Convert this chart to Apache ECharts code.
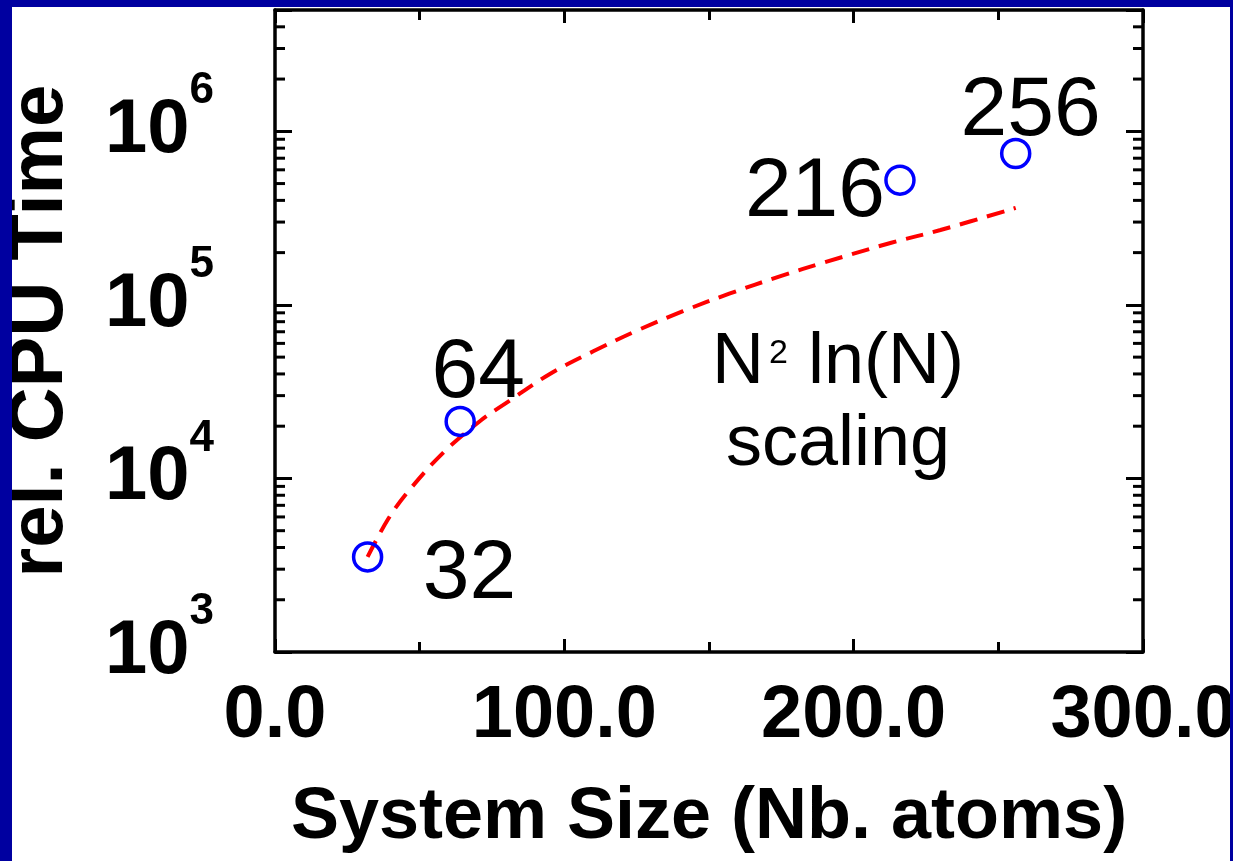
<!DOCTYPE html>
<html>
<head>
<meta charset="utf-8">
<script src="https://cdn.jsdelivr.net/npm/echarts@6/dist/echarts.min.js"></script>
<style>
  html, body { margin: 0; padding: 0; width: 1233px; height: 861px; background: #0000a0; overflow: hidden; }
  #chart { position: absolute; left: 12px; top: 7px; width: 1218px; height: 854px; background: #ffffff; }
</style>
</head>
<body>
<div id="chart"></div>
<script>
// ---- data ----
const systemSizes = [32, 64, 216, 256];                 // Nb. atoms
const cpuTimes = [3530, 21300, 523000, 745000];         // rel. CPU time (measured)
const fitSizes = [32, 39, 46, 58, 71, 81, 95, 110, 125, 141, 157, 175, 190, 213, 230, 256];
const fitTimes = [3530, 5800, 8400, 14000, 21500, 28000, 40000, 54000, 71000, 92000, 116000, 147000, 176000, 228000, 270000, 362000];
const xTickLabels = ['0.0', '100.0', '200.0', '300.0'];
const yDecadeExponents = [3, 4, 5, 6];
const xAxisTitle = 'System Size (Nb. atoms)';
const yAxisTitle = 'rel. CPU Time';
const annotationLine1 = ['N', '2', ' ln(N)'];
const annotationLine2 = 'scaling';

// ---- layout / style ----
const FONT = "'Liberation Sans', Arial, Helvetica, sans-serif";
const labelOffsets = [[102, 18], [18, -48], [-85, 13], [15, -42]];
const xMin = 0, xMax = 300, yMin = 1000, yMax = 5e6;

// minor log ticks (2..9 x decade) inside the axis range
const minorTickValues = [];
yDecadeExponents.forEach(function (e) {
  for (let k = 2; k <= 9; k++) {
    const v = k * Math.pow(10, e);
    if (v < yMax) minorTickValues.push(v);
  }
});

const chart = echarts.init(document.getElementById('chart'), null, { renderer: 'canvas' });

const axisLineStyle = { color: '#000', width: 3.5 };
const tickStyle = { color: '#000', width: 3 };

function yLabel(v) {
  const lg = Math.log10(v);
  const e = Math.round(lg);
  if (Math.abs(lg - e) > 1e-6 || yDecadeExponents.indexOf(e) < 0) return '';
  return '{b|10}{s|' + e + '}';
}
function xLabel(v) {
  const i = Math.round(v / 100);
  if (Math.abs(v - i * 100) > 1e-6) return '';
  return xTickLabels[i] || '';
}

const option = {
  backgroundColor: '#ffffff',
  animation: false,
  grid: { left: 263, top: 3, width: 868, height: 642, containLabel: false, outerBoundsMode: 'none' },
  xAxis: [
    {
      type: 'value', min: xMin, max: xMax, interval: 100, position: 'bottom',
      axisLine: { show: true, onZero: false, lineStyle: axisLineStyle },
      axisTick: { show: true, inside: true, length: 13, lineStyle: tickStyle },
      minorTick: { show: true, splitNumber: 2, length: 10, lineStyle: tickStyle },
      splitLine: { show: false },
      axisLabel: {
        formatter: xLabel, color: '#000', fontFamily: FONT, fontWeight: 'bold',
        fontSize: 74, margin: 28, showMinLabel: true, showMaxLabel: true, hideOverlap: false
      },
      name: xAxisTitle, nameLocation: 'middle', nameGap: 130,
      nameTextStyle: { color: '#000', fontFamily: FONT, fontWeight: 'bold', fontSize: 72 }
    },
    {
      type: 'value', min: xMin, max: xMax, interval: 100, position: 'top',
      axisLine: { show: true, onZero: false, lineStyle: axisLineStyle },
      axisTick: { show: true, inside: true, length: 13, lineStyle: tickStyle },
      minorTick: { show: true, splitNumber: 2, length: 10, lineStyle: tickStyle },
      splitLine: { show: false },
      axisLabel: { show: false }
    }
  ],
  yAxis: [
    {
      type: 'log', logBase: 10, min: yMin, max: yMax, position: 'left',
      axisLine: { show: true, onZero: false, lineStyle: axisLineStyle },
      axisTick: { show: true, inside: true, length: 17, lineStyle: tickStyle },
      minorTick: { show: false },
      splitLine: { show: false },
      axisLabel: {
        formatter: yLabel, margin: 61, color: '#000', hideOverlap: false, lineHeight: 124,
        rich: {
          b: { fontFamily: FONT, fontWeight: 'bold', fontSize: 76, lineHeight: 124, color: '#000' },
          s: { fontFamily: FONT, fontWeight: 'bold', fontSize: 44, lineHeight: 20, verticalAlign: 'top', color: '#000' }
        }
      },
      name: yAxisTitle, nameLocation: 'middle', nameGap: 196,
      nameTextStyle: { color: '#000', fontFamily: FONT, fontWeight: 'bold', fontSize: 76 }
    },
    {
      type: 'log', logBase: 10, min: yMin, max: yMax, position: 'right',
      axisLine: { show: true, onZero: false, lineStyle: axisLineStyle },
      axisTick: { show: true, inside: true, length: 17, lineStyle: tickStyle },
      minorTick: { show: false },
      splitLine: { show: false },
      axisLabel: { show: false }
    }
  ],
  series: [
    {
      type: 'custom', name: 'minorTicks', silent: true, clip: false,
      xAxisIndex: 0, yAxisIndex: 0,
      data: minorTickValues.map(function (v) { return [xMin, v]; }),
      renderItem: function (params, api) {
        const v = api.value(1);
        const pL = api.coord([xMin, v]);
        const pR = api.coord([xMax, v]);
        return {
          type: 'group',
          children: [
            { type: 'line', shape: { x1: pL[0], y1: pL[1], x2: pL[0] + 10, y2: pL[1] }, style: { stroke: '#000', lineWidth: 3 } },
            { type: 'line', shape: { x1: pR[0] - 10, y1: pR[1], x2: pR[0], y2: pR[1] }, style: { stroke: '#000', lineWidth: 3 } }
          ]
        };
      }
    },
    {
      type: 'line', name: 'N2lnN', xAxisIndex: 0, yAxisIndex: 0,
      data: fitSizes.map(function (n, i) { return [n, fitTimes[i]]; }),
      showSymbol: false, smooth: 0.35, silent: true,
      lineStyle: { color: '#ff0000', width: 4, type: [18, 10], opacity: 1 }
    },
    {
      type: 'scatter', name: 'measured', xAxisIndex: 0, yAxisIndex: 0,
      symbol: 'circle', symbolSize: 28,
      itemStyle: { color: 'rgba(255,255,255,0)', borderColor: '#0000ff', borderWidth: 3.5, opacity: 1 },
      label: {
        show: true, position: 'inside', color: '#000000', opacity: 1, textBorderWidth: 0,
        fontFamily: FONT, fontSize: 84,
        formatter: function (p) { return String(p.value[0]); }
      },
      data: systemSizes.map(function (n, i) {
        return { value: [n, cpuTimes[i]], label: { offset: labelOffsets[i] } };
      }),
      z: 5
    }
  ],
  graphic: [
    {
      type: 'text', x: 826, y: 315, silent: true,
      style: {
        text: '{n|' + annotationLine1[0] + '}{s|' + annotationLine1[1] + '}{n|' + annotationLine1[2] + '}\n{n|' + annotationLine2 + '}',
        align: 'center', verticalAlign: 'top',
        rich: {
          n: { fontFamily: FONT, fontSize: 72, lineHeight: 82, fill: '#000' },
          s: { fontFamily: FONT, fontSize: 34, lineHeight: 64, fill: '#000', padding: [0, 0, 18, 5] }
        }
      }
    }
  ]
};

chart.setOption(option);
</script>
</body>
</html>
